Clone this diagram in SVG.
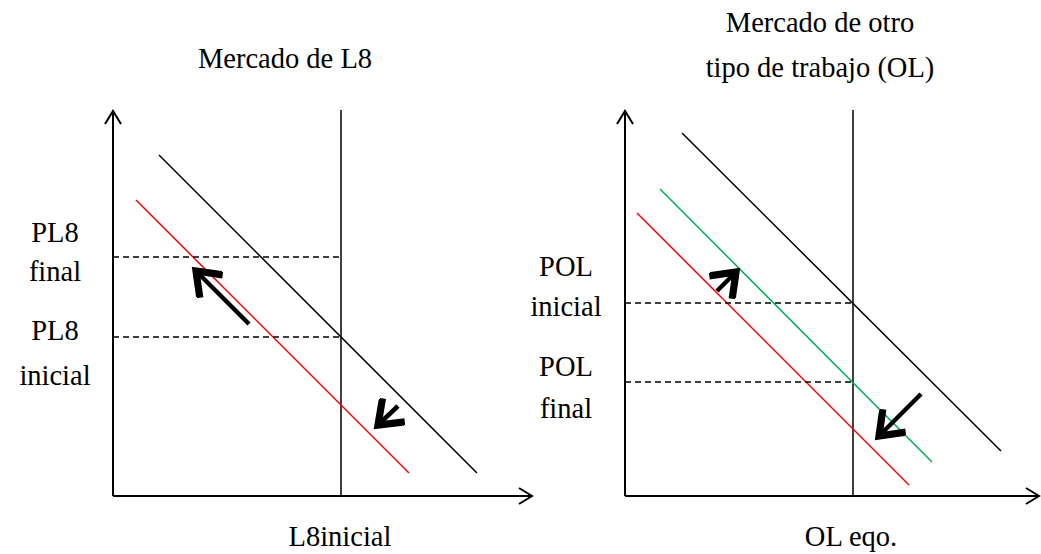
<svg xmlns="http://www.w3.org/2000/svg" width="1041" height="554" viewBox="0 0 1041 554">
<style>
.t{font-family:"Liberation Serif","Times New Roman",serif;font-size:28.5px;fill:#000;text-anchor:middle}
.ax{stroke:#000;stroke-width:2;fill:none}
.thin{stroke:#000;stroke-width:1.5;fill:none}
.dash{stroke:#000;stroke-width:1.5;stroke-dasharray:6,4;fill:none}
.red{stroke:#ff0000;stroke-width:1.5;fill:none}
.grn{stroke:#00b050;stroke-width:1.5;fill:none}
.big{stroke:#000;stroke-width:4.5;fill:none;stroke-linecap:butt}
</style>
<defs>
<marker id="ah" viewBox="0 0 20 20" refX="14" refY="10" markerWidth="20" markerHeight="20" markerUnits="userSpaceOnUse" orient="auto">
<path d="M1,2 L14,10 L1,18" fill="none" stroke="#000" stroke-width="2"/>
</marker>
<marker id="bh" viewBox="0 0 20 20" refX="16" refY="10" markerWidth="8" markerHeight="8" orient="auto">
<path d="M4,1 L16,10 L4,19" fill="none" stroke="#000" stroke-width="4"/>
</marker>
</defs>
<g id="left-chart">
<g id="left-axes">
<line class="ax" x1="113" y1="496" x2="113" y2="111" marker-end="url(#ah)"/>
<line class="ax" x1="113" y1="496" x2="532" y2="496" marker-end="url(#ah)"/>
</g>
<g id="left-curves">
<line class="thin" x1="341" y1="110" x2="341" y2="496"/>
<line class="thin" x1="159" y1="155" x2="477" y2="473"/>
<line class="red" x1="136" y1="200" x2="409" y2="473"/>
<line class="dash" x1="113" y1="257" x2="341" y2="257"/>
<line class="dash" x1="113" y1="337" x2="341" y2="337"/>
</g>
<g id="left-labels">
<text class="t" x="285" y="68">Mercado de L8</text>
<text class="t" x="55" y="242">PL8</text>
<text class="t" x="55" y="281">final</text>
<text class="t" x="55" y="340">PL8</text>
<text class="t" x="55" y="385">inicial</text>
<text class="t" x="340" y="546">L8inicial</text>
</g>
</g>
<g id="right-chart">
<g id="right-axes">
<line class="ax" x1="625" y1="496" x2="625" y2="111" marker-end="url(#ah)"/>
<line class="ax" x1="625" y1="496" x2="1039" y2="496" marker-end="url(#ah)"/>
</g>
<g id="right-curves">
<line class="thin" x1="853" y1="110" x2="853" y2="496"/>
<line class="thin" x1="682" y1="133" x2="1001" y2="451"/>
<line class="grn" x1="660" y1="189" x2="932" y2="462"/>
<line class="red" x1="637" y1="213" x2="909" y2="485"/>
<line class="dash" x1="625" y1="303" x2="853" y2="303"/>
<line class="dash" x1="625" y1="382" x2="853" y2="382"/>
</g>
<g id="right-labels">
<text class="t" x="820" y="32">Mercado de otro</text>
<text class="t" x="820" y="77">tipo de trabajo (OL)</text>
<text class="t" x="566" y="276">POL</text>
<text class="t" x="566" y="316">inicial</text>
<text class="t" x="566" y="376">POL</text>
<text class="t" x="566" y="418">final</text>
<text class="t" x="851" y="546">OL eqo.</text>
</g>
</g>
<g id="connectors">
<line class="big" x1="249" y1="324" x2="196" y2="271" marker-end="url(#bh)"/>
<line class="big" x1="398" y1="406" x2="378" y2="425" marker-end="url(#bh)"/>
<line class="big" x1="717" y1="291" x2="736" y2="272" marker-end="url(#bh)"/>
<line class="big" x1="921" y1="394" x2="879" y2="436" marker-end="url(#bh)"/>
</g>
</svg>
